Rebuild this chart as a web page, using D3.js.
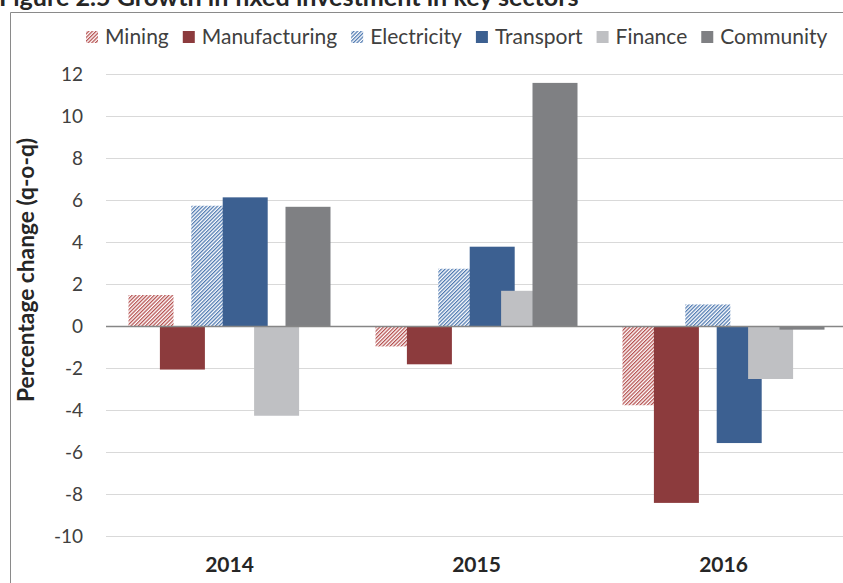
<!DOCTYPE html>
<html>
<head>
<meta charset="utf-8">
<script src="https://cdn.jsdelivr.net/npm/d3@7"></script>
<style>
  body { margin: 0; background: #fff; }
  svg { display: block; font-family: Lato, "Open Sans", sans-serif; }
</style>
</head>
<body>
<svg id="chart" width="843" height="583"></svg>
<script>
// chart values
const years = ["2014", "2015", "2016"];
const sectors = ["Mining", "Manufacturing", "Electricity", "Transport", "Finance", "Community"];
const mining = [1.5, -0.95, -3.75];
const manufacturing = [-2.05, -1.8, -8.4];
const electricity = [5.75, 2.75, 1.05];
const transport = [6.15, 3.8, -5.55];
const finance = [-4.25, 1.7, -2.5];
const community = [5.7, 11.6, -0.15];
const yTicks = [-10, -8, -6, -4, -2, 0, 2, 4, 6, 8, 10, 12];

const title = "Figure 2.5 Growth in fixed investment in key sectors";
const yTitle = "Percentage change (q-o-q)";

const seriesValues = [mining, manufacturing, electricity, transport, finance, community];
const fills = ["url(#hatchRed)", "#8c3b3d", "url(#hatchBlue)", "#3c6091", "#bfc0c3", "#7f8083"];

const margins = { top: 74.5, right: -4, bottom: 46.5, left: 106 };
const totalWidth = 843;
const totalHeight = 583;

let svg = d3.select("#chart");

// hatch patterns for mining / electricity
let defs = svg.append("defs");
function makeHatch(id, color) {
    let p = defs.append("pattern")
        .attr("id", id)
        .attr("patternUnits", "userSpaceOnUse")
        .attr("width", 2.6)
        .attr("height", 2.6)
        .attr("patternTransform", "rotate(45)");
    p.append("rect").attr("width", 2.6).attr("height", 2.6).attr("fill", "#fff");
    p.append("line")
        .attr("x1", 0.6).attr("y1", 0).attr("x2", 0.6).attr("y2", 2.6)
        .attr("stroke", color)
        .attr("stroke-width", 1.3);
}
makeHatch("hatchRed", "#b5504f");
makeHatch("hatchBlue", "#4d78b0");

// scales
let xscale = d3.scaleBand(years, [margins.left, totalWidth - margins.right]);
let offset = d3.scalePoint(sectors, [-78.5, 78.5]);
const barWidth = 45;
let yscale = d3.scaleLinear([-10, 12], [totalHeight - margins.bottom, margins.top]);

// frame (cut off picture border)
svg.append("path")
    .attr("d", "M10.5,583 V12.5 H843")
    .attr("fill", "none")
    .attr("stroke", "#8a8a8a")
    .attr("stroke-width", 1);

// title, cut at the top of the picture like the original
svg.append("text")
    .attr("x", -1)
    .attr("y", 6)
    .attr("font-weight", "bold")
    .attr("font-size", 22)
    .attr("fill", "#262626")
    .text(title)
    .call(fitText, 580);

// gridlines
svg.append("g")
    .selectAll("line")
    .data(yTicks.filter(d => d !== 0))
    .enter()
    .append("line")
    .attr("x1", margins.left)
    .attr("x2", totalWidth)
    .attr("y1", d => yscale(d))
    .attr("y2", d => yscale(d))
    .attr("stroke", "#d9d9d9")
    .attr("stroke-width", 1.2);

// y axis labels (plain hyphen minus like the original)
let yaxis = d3.axisLeft(yscale)
    .tickValues(yTicks)
    .tickFormat(d => String(d))
    .tickSize(0)
    .tickPadding(23);
svg.append("g")
    .attr("transform", `translate(${margins.left},0)`)
    .call(yaxis)
    .call(g => g.select(".domain").remove())
    .selectAll("text")
    .attr("font-family", "Lato, sans-serif")
    .attr("font-size", 19)
    .attr("fill", "#404040");

// bars, one series at a time so later ones sit on top
seriesValues.forEach(function(vals, si) {
    svg.append("g")
        .selectAll("rect")
        .data(vals)
        .enter()
        .append("rect")
        .attr("x", (d, i) => xscale(years[i]) + xscale.bandwidth() / 2 + offset(sectors[si]) - barWidth / 2)
        .attr("y", d => yscale(Math.max(0, d)))
        .attr("width", barWidth)
        .attr("height", d => Math.abs(yscale(d) - yscale(0)))
        .attr("fill", fills[si]);
});

// zero line
svg.append("line")
    .attr("x1", margins.left)
    .attr("x2", totalWidth)
    .attr("y1", yscale(0))
    .attr("y2", yscale(0))
    .attr("stroke", "#868686")
    .attr("stroke-width", 1.3);

// category labels
let xaxis = d3.axisBottom(xscale).tickSize(0).tickPadding(21);
svg.append("g")
    .attr("transform", `translate(0,${yscale(-10)})`)
    .call(xaxis)
    .call(g => g.select(".domain").remove())
    .selectAll("text")
    .attr("font-family", "Lato, sans-serif")
    .attr("font-weight", "bold")
    .attr("font-size", 21)
    .attr("fill", "#262626");

// y title
svg.append("text")
    .attr("transform", "translate(34,270) rotate(-90)")
    .attr("text-anchor", "middle")
    .attr("font-weight", "bold")
    .attr("font-size", 19)
    .attr("fill", "#262626")
    .text(yTitle)
    .call(fitText, 264);

// legend
let legend = svg.append("g");
let items = legend.selectAll("g")
    .data(sectors)
    .enter()
    .append("g");
items.append("rect")
    .attr("width", 12)
    .attr("height", 12)
    .attr("y", 31)
    .attr("fill", (d, i) => fills[i]);
items.append("text")
    .attr("x", 19)
    .attr("y", 44)
    .attr("font-size", 21)
    .attr("fill", "#404040")
    .text(d => d);
// spread legend items along the row
let lx = 86;
items.each(function() {
    let g = d3.select(this);
    g.attr("transform", `translate(${lx},0)`);
    lx += 19 + g.select("text").node().getComputedTextLength() + 14;
});
let legendWidth = lx - 14 - 86;
if (legendWidth > 742) {
    let k = 742 / legendWidth;
    lx = 86;
    items.each(function() {
        let g = d3.select(this);
        g.select("text").attr("font-size", 21 * k);
        g.attr("transform", `translate(${lx},0)`);
        lx += 19 + g.select("text").node().getComputedTextLength() + 14;
    });
}

function fitText(sel, width) {
    let node = sel.node();
    let w = node.getComputedTextLength();
    let fs = +sel.attr("font-size");
    sel.attr("font-size", fs * width / w);
}
</script>
</body>
</html>
